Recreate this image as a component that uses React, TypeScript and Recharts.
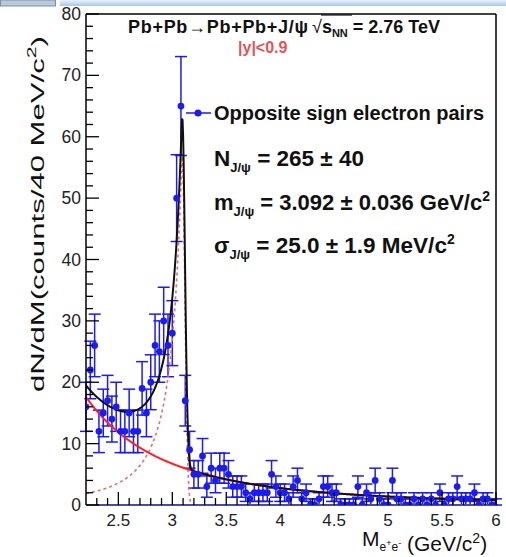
import React from "react";
import {
  ComposedChart,
  Scatter,
  Line,
  XAxis,
  YAxis,
  ErrorBar,
  ReferenceLine,
} from "recharts";

// invariant mass window and binning (GeV/c^2)
const MASS_MIN = 2.2;
const MASS_MAX = 6.0;
const BIN_WIDTH = 0.04;

// opposite-sign e+e- pair counts per 40 MeV bin, starting at 2.20
const counts = [
  16, 22, 26, 12, 15, 17, 14, 16, 12, 12,
  15, 12, 12, 19, 15, 20, 26, 25, 30, 26,
  28, 50, 65, 17, 9, 5, 5, 8, 3, 6,
  4, 6, 6, 5, 3, 3, 3, 2, 1, 2,
  2, 2, 2, 5, 3, 2, 2, 1, 3, 4,
  1, 2, 0, 0, 1, 3, 3, 2, 2, 0,
  0, 0, 0, 3, 0, 2, 1, 4, 1, 0,
  0, 4, 1, 1, 0, 0, 1, 0, 1, 0,
  1, 0, 2, 0, 1, 1, 3, 1, 1, 1,
  2, 0, 1, 1, 0, 0,
];

// fit parameters: J/psi signal (Crystal Ball) + continuum
const JPSI_MASS = 3.092;
const JPSI_SIGMA = 0.025;
const CB_PEAK = 57;
const CB_ALPHA = 0.25;
const CB_N = 2;
const BKG_AT_MIN = 17.6;
const BKG_POWER = 3.1;

const xMajorTicks = [2.5, 3, 3.5, 4, 4.5, 5, 5.5, 6];
const xTickLabels = ["2.5", "3", "3.5", "4", "4.5", "5", "5.5", "6"];
const yMajorTicks = [0, 10, 20, 30, 40, 50, 60, 70, 80];
const yTickLabels = ["0", "10", "20", "30", "40", "50", "60", "70", "80"];

const BLUE = "#1c1cf0";
const FONT = "'Liberation Sans', Arial, Helvetica, sans-serif";

const points = counts.map((n, i) => ({
  x: +(MASS_MIN + i * BIN_WIDTH).toFixed(2),
  y: n,
  // poisson errors, empty bins get a one-sided bar
  err: n > 0 ? [Math.sqrt(n), Math.sqrt(n)] : [0, 1],
}));

function crystalBall(x: number) {
  const t = (x - JPSI_MASS) / JPSI_SIGMA;
  if (t > -CB_ALPHA) return CB_PEAK * Math.exp((-t * t) / 2);
  const a = Math.pow(CB_N / CB_ALPHA, CB_N) * Math.exp((-CB_ALPHA * CB_ALPHA) / 2);
  const b = CB_N / CB_ALPHA - CB_ALPHA;
  return CB_PEAK * a * Math.pow(b - t, -CB_N);
}

const continuum = (x: number) => BKG_AT_MIN * Math.pow(MASS_MIN / x, BKG_POWER);

const curve = Array.from({ length: 761 }, (_, i) => {
  const x = MASS_MIN + i * 0.005;
  const cb = crystalBall(x);
  const bkg = continuum(x);
  return { x, cb, bkg, total: cb + bkg };
});

const xTicks: number[] = [];
for (let v = 23; v <= 60; v++) xTicks.push(v / 10);
const yTicks: number[] = [];
for (let v = 0; v <= 80; v += 2) yTicks.push(v);

function XTick(props: any) {
  const { x, y, payload } = props;
  const idx = xMajorTicks.findIndex((t) => Math.abs(t - payload.value) < 1e-6);
  const major = idx >= 0;
  return (
    <g>
      <line x1={x} x2={x} y1={y} y2={y - (major ? 13 : 7)} stroke="#000" strokeWidth={1.3} />
      {major && (
        <text x={x} y={y + 21} textAnchor="middle" fontSize={17} fontFamily={FONT} fill="#222">
          {xTickLabels[idx]}
        </text>
      )}
    </g>
  );
}

function YTick(props: any) {
  const { x, y, payload } = props;
  const idx = yMajorTicks.indexOf(payload.value);
  const major = idx >= 0;
  return (
    <g>
      <line x1={x} x2={x + (major ? 13 : 7)} y1={y} y2={y} stroke="#000" strokeWidth={1.3} />
      {major && (
        <text x={x - 5} y={y + 6} textAnchor="end" fontSize={17.5} fontFamily={FONT} fill="#222">
          {yTickLabels[idx]}
        </text>
      )}
    </g>
  );
}

function Annotations() {
  const bold = { fontFamily: FONT, fontWeight: 700, fill: "#111" } as const;
  return (
    <svg
      width={506}
      height={557}
      style={{ position: "absolute", left: 0, top: 0, pointerEvents: "none" }}
    >
      <defs>
        <linearGradient id="band" x1="0" y1="0" x2="0" y2="1">
          <stop offset="0" stopColor="#e8f1fb" />
          <stop offset="1" stopColor="#a9c8ea" />
        </linearGradient>
      </defs>
      <rect x={60} y={0} width={446} height={6} fill="url(#band)" />
      <rect x={0.5} y={0} width={55} height={6} fill="#b9c9da" stroke="#7d8fa3" />

      <text x={128} y={33} fontSize={18} textLength={180} {...bold}>
        Pb+Pb<tspan fontWeight={400}>→</tspan>Pb+Pb+J/ψ
      </text>
      <text x={312} y={33} fontSize={18} {...bold}>
        <tspan fontWeight={400}>√</tspan>s
        <tspan dy={4} fontSize={11}>NN</tspan>
        <tspan dy={-4}> = 2.76 TeV</tspan>
      </text>
      <line x1={321} x2={352} y1={15} y2={15} stroke="#111" strokeWidth={1.2} />
      <text x={238} y={53} fontSize={16} {...bold} fill="#e05555">
        |y|&lt;0.9
      </text>

      <line x1={186} x2={211} y1={113} y2={113} stroke={BLUE} strokeWidth={1.5} />
      <circle cx={198} cy={113} r={3.5} fill={BLUE} />
      <text x={214} y={120} fontSize={20} {...bold}>
        Opposite sign electron pairs
      </text>

      <text x={214} y={166} fontSize={22.5} {...bold}>
        N<tspan dy={6} fontSize={13}>J/ψ</tspan>
        <tspan dy={-6}> = 265 ± 40</tspan>
      </text>
      <text x={214} y={210} fontSize={22} {...bold}>
        m<tspan dy={6} fontSize={13}>J/ψ</tspan>
        <tspan dy={-6}> = 3.092 ± 0.036 GeV/c</tspan>
        <tspan dy={-9} fontSize={14}>2</tspan>
      </text>
      <text x={214} y={253} fontSize={22.5} {...bold}>
        σ<tspan dy={6} fontSize={13}>J/ψ</tspan>
        <tspan dy={-6}> = 25.0 ± 1.9 MeV/c</tspan>
        <tspan dy={-9} fontSize={14}>2</tspan>
      </text>

      <text
        transform="translate(44, 214) rotate(-90)"
        textAnchor="middle"
        fontSize={19}
        fontFamily={FONT}
        fill="#111"
        textLength={356}
        lengthAdjust="spacingAndGlyphs"
      >
        dN/dM(counts/40 MeV/c<tspan dy={-8} fontSize={13}>2</tspan>
        <tspan dy={8}>)</tspan>
      </text>
      <text x={362} y={546} fontSize={21} fontFamily={FONT} fill="#111">
        M<tspan dy={5} fontSize={12}>e</tspan>
        <tspan dy={-5} fontSize={9}>+</tspan>
        <tspan dy={5} fontSize={12}>e</tspan>
        <tspan dy={-5} fontSize={9}>-</tspan>
        <tspan dy={5}> (GeV/c</tspan>
        <tspan dy={-8} fontSize={14}>2</tspan>
        <tspan dy={8}>)</tspan>
      </text>
    </svg>
  );
}

export default function App() {
  return (
    <div
      style={{ position: "absolute", left: 0, top: 0, width: 506, height: 557, background: "#fff" }}
    >
      <ComposedChart width={506} height={557} margin={{ top: 14, right: 10, bottom: 0, left: 0 }}>
        <XAxis
          type="number"
          dataKey="x"
          domain={[MASS_MIN, MASS_MAX]}
          ticks={xTicks}
          interval={0}
          allowDataOverflow
          height={52}
          tickSize={0}
          tickMargin={0}
          tickLine={false}
          axisLine={{ stroke: "#4b4b9c", strokeWidth: 2 }}
          tick={(p: any) => <XTick {...p} />}
        />
        <YAxis
          type="number"
          domain={[0, 80]}
          ticks={yTicks}
          interval={0}
          allowDataOverflow
          width={86}
          tickSize={0}
          tickMargin={0}
          tickLine={false}
          axisLine={{ stroke: "#000", strokeWidth: 1.5 }}
          tick={(p: any) => <YTick {...p} />}
        />
        <ReferenceLine y={80} stroke="#000" strokeWidth={1.5} />
        <ReferenceLine x={MASS_MAX} stroke="#000" strokeWidth={1.5} />
        <Scatter
          data={points}
          dataKey="y"
          fill={BLUE}
          isAnimationActive={false}
          shape={(p: any) => <circle cx={p.cx} cy={p.cy} r={3.4} fill={BLUE} />}
        >
          <ErrorBar dataKey="err" direction="y" width={6} stroke={BLUE} strokeWidth={1.5} />
        </Scatter>
        <Line
          data={curve}
          dataKey="cb"
          type="linear"
          stroke="#e07070"
          strokeWidth={1.6}
          strokeDasharray="3 3"
          dot={false}
          isAnimationActive={false}
        />
        <Line
          data={curve}
          dataKey="bkg"
          type="linear"
          stroke="#ff2020"
          strokeWidth={2}
          dot={false}
          isAnimationActive={false}
        />
        <Line
          data={curve}
          dataKey="total"
          type="linear"
          stroke="#111"
          strokeWidth={2}
          dot={false}
          isAnimationActive={false}
        />
      </ComposedChart>
      <Annotations />
    </div>
  );
}
